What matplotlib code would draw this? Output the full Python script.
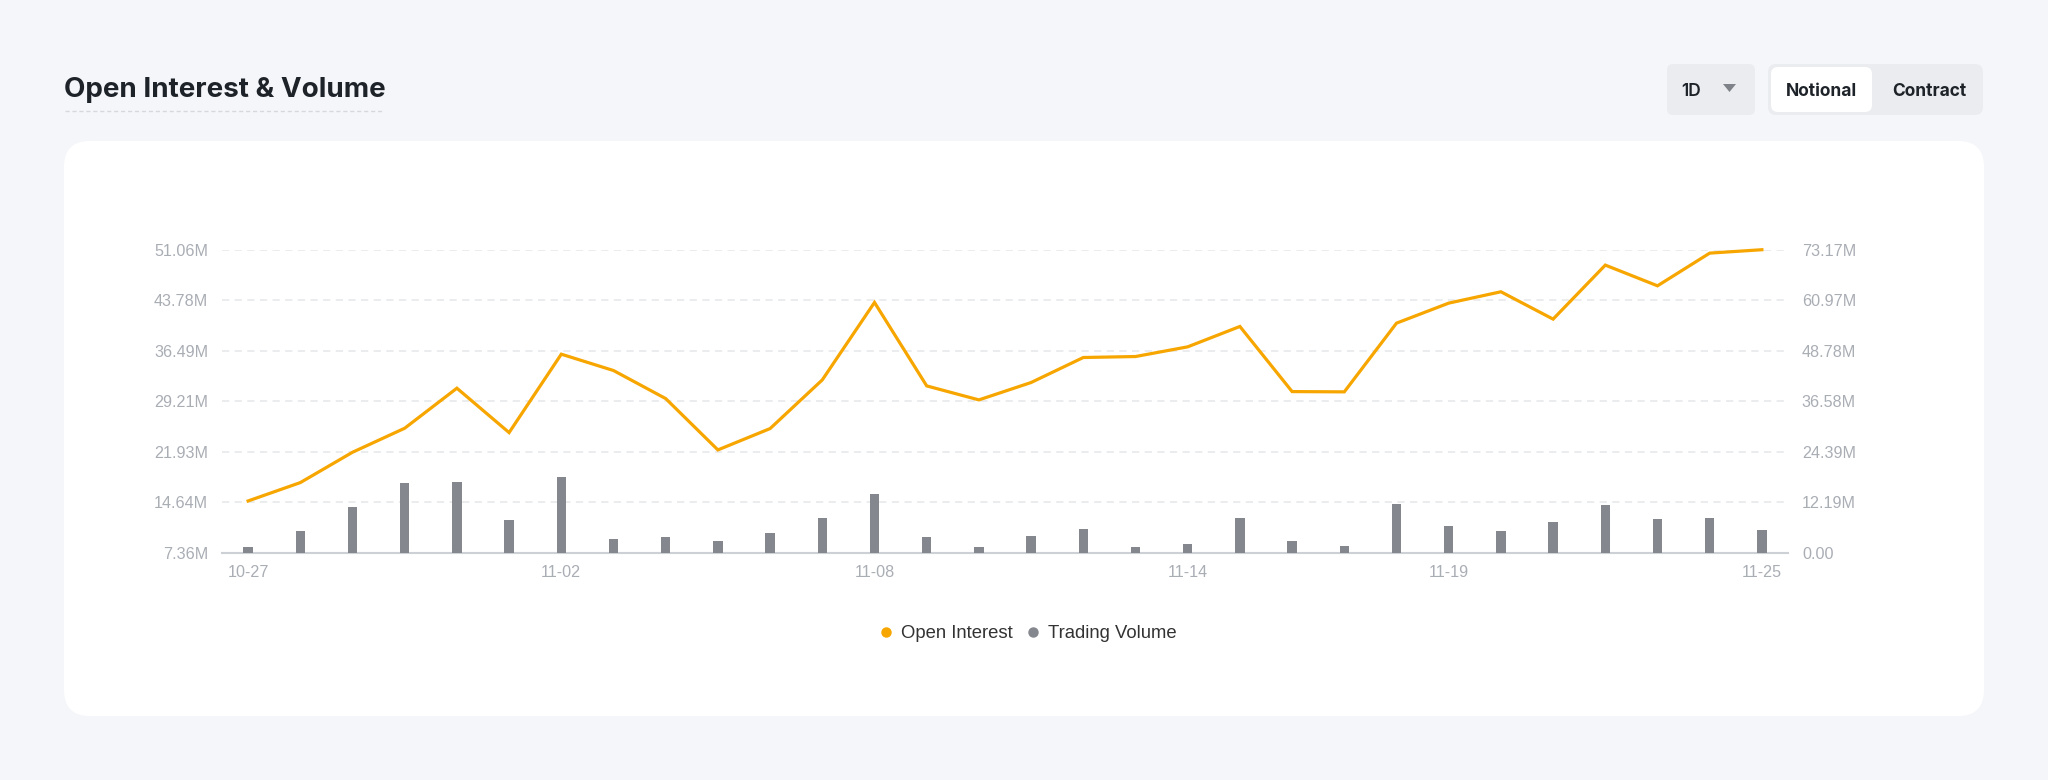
import matplotlib
matplotlib.use("Agg")
import matplotlib.pyplot as plt
from matplotlib.patches import FancyBboxPatch, Polygon
from matplotlib.lines import Line2D

# ---------------- data ----------------
dates = ['10-27', '10-28', '10-29', '10-30', '10-31', '11-01', '11-02', '11-03', '11-04', '11-05',
         '11-06', '11-07', '11-08', '11-09', '11-10', '11-11', '11-12', '11-13', '11-14', '11-15',
         '11-16', '11-17', '11-18', '11-19', '11-20', '11-21', '11-22', '11-23', '11-24', '11-25']
open_interest = [14.83, 17.48, 21.86, 25.33, 31.11, 24.70, 36.02, 33.66, 29.61, 22.20,
                 25.28, 32.31, 43.49, 31.44, 29.42, 31.93, 35.54, 35.68, 37.08, 40.02,
                 30.62, 30.58, 40.50, 43.39, 45.03, 41.08, 48.88, 45.89, 50.61, 51.10]
trading_volume = [1.45, 5.24, 11.13, 16.86, 17.01, 7.90, 18.31, 3.23, 3.71, 2.90,
                  4.68, 8.31, 14.19, 3.71, 1.37, 4.03, 5.65, 1.29, 2.10, 8.47,
                  2.90, 1.53, 11.70, 6.45, 5.16, 7.42, 11.61, 8.23, 8.47, 5.49]
xtick_labels = ['10-27', '11-02', '11-08', '11-14', '11-19', '11-25']
oi_ticks = [7.36, 14.64, 21.93, 29.21, 36.49, 43.78, 51.06]
oi_tick_labels = ['7.36M', '14.64M', '21.93M', '29.21M', '36.49M', '43.78M', '51.06M']
vol_ticks = [0.0, 12.19, 24.39, 36.58, 48.78, 60.97, 73.17]
vol_tick_labels = ['0.00', '12.19M', '24.39M', '36.58M', '48.78M', '60.97M', '73.17M']
series_names = ['Open Interest', 'Trading Volume']
title = 'Open Interest & Volume'
buttons = ['1D', 'Notional', 'Contract']

# ---------------- style ----------------
W, H = 2048, 780
BG = '#f5f6fa'
ORANGE = '#f7a600'
BAR = '#84878e'
GRID = '#e9eaed'
TICK = '#a9adb4'
UI_FONT = ['Inter', 'DejaVu Sans']
CH_FONT = ['Liberation Sans', 'DejaVu Sans']

fig = plt.figure(figsize=(W / 100, H / 100), dpi=100, facecolor=BG)

# background canvas in pixel coordinates
bg = fig.add_axes([0, 0, 1, 1], zorder=0)
bg.set_xlim(0, W)
bg.set_ylim(H, 0)
bg.axis('off')

bg.add_patch(FancyBboxPatch((64, 141), 1920, 575, boxstyle='round,pad=0,rounding_size=26',
                            facecolor='white', edgecolor='none'))
bg.text(64, 90, title, fontsize=20, fontweight='bold', color='#1e2329', family=UI_FONT,
        ha='left', va='center')
bg.plot([65, 383], [111, 111], color='#d5d8dd', lw=1, ls=(0, (3, 2)))

# 1D dropdown
bg.add_patch(FancyBboxPatch((1667, 64), 88, 51, boxstyle='round,pad=0,rounding_size=6',
                            facecolor='#eaecef', edgecolor='none'))
bg.text(1691, 92, buttons[0], fontsize=12.5, fontweight='semibold', color='#1e2329', family=UI_FONT,
        ha='center', va='center')
bg.add_patch(Polygon([[1723, 84], [1736, 84], [1729.5, 92]], closed=True,
                     facecolor='#7f8389', edgecolor='none'))
# segmented control
bg.add_patch(FancyBboxPatch((1768, 64), 215, 51, boxstyle='round,pad=0,rounding_size=8',
                            facecolor='#eaecef', edgecolor='none'))
bg.add_patch(FancyBboxPatch((1771, 67), 101, 45, boxstyle='round,pad=0,rounding_size=7',
                            facecolor='white', edgecolor='none'))
bg.text(1821.5, 92, buttons[1], fontsize=12.5, fontweight='bold', color='#1e2329', family=UI_FONT,
        ha='center', va='center')
bg.text(1929, 92, buttons[2], fontsize=12.5, fontweight='bold', color='#1e2329', family=UI_FONT,
        ha='center', va='center')

# ---------------- chart ----------------
left, right = 222 / W, 1788 / W
top, bottom = 1 - 250 / H, 1 - 552.7 / H
ax = fig.add_axes([left, bottom, right - left, top - bottom], zorder=2)
ax.set_facecolor('none')
x = list(range(len(dates)))

# volume bars on the base axes (right-hand scale)
ax.bar(x, trading_volume, width=0.18, color=BAR, zorder=3)
ax.set_ylim(vol_ticks[0], vol_ticks[-1])
ax.grid(axis='y', color=GRID, lw=1.3, ls=(0, (4, 3)), zorder=0)
ax.set_axisbelow(True)

ax2 = ax.twinx()
ax2.plot(x, open_interest, color=ORANGE, lw=2.3, solid_joinstyle='miter', zorder=4, clip_on=False)
ax2.set_ylim(oi_ticks[0], oi_ticks[-1])

# put volume scale on the right, open interest scale on the left
ax.yaxis.tick_right()
ax.yaxis.set_label_position('right')
ax2.yaxis.tick_left()
ax2.yaxis.set_label_position('left')
ax.set_yticks(vol_ticks)
ax.set_yticklabels(vol_tick_labels)
ax2.set_yticks(oi_ticks)
ax2.set_yticklabels(oi_tick_labels)

ax.set_xlim(-0.5, len(dates) - 0.5)
ax.set_xticks([dates.index(d) for d in xtick_labels])
ax.set_xticklabels(xtick_labels)

for a in (ax, ax2):
    for s in a.spines.values():
        s.set_visible(False)
    a.tick_params(length=0, labelsize=11.6, labelcolor=TICK, pad=10)
    for lab in a.get_xticklabels() + a.get_yticklabels():
        lab.set_family(CH_FONT)
ax.tick_params(axis='x', pad=9)
ax.spines['bottom'].set_visible(True)
ax.spines['bottom'].set_color('#cdd0d5')
ax.spines['bottom'].set_linewidth(1.5)

# legend
handles = [Line2D([], [], ls='none', marker='o', ms=6.5, color=ORANGE),
           Line2D([], [], ls='none', marker='o', ms=6.5, color=BAR)]
fig.legend(handles, series_names, loc='center', bbox_to_anchor=(1026 / W, 1 - 634 / H), ncol=2,
           frameon=False, prop={'family': CH_FONT, 'size': 13.3}, labelcolor='#333333',
           handletextpad=0.2, columnspacing=0.5, handlelength=1.2)

fig.savefig('out.png', dpi=100, facecolor=BG)
